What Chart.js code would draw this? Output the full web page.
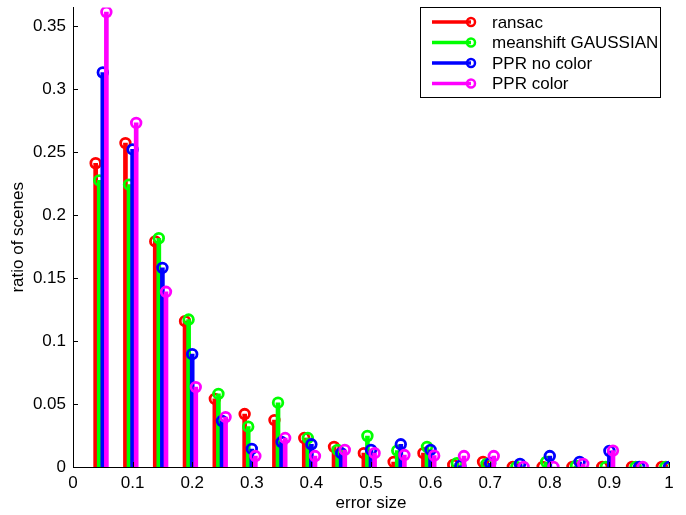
<!DOCTYPE html>
<html>
<head>
<meta charset="utf-8">
<script src="https://cdn.jsdelivr.net/npm/chart.js@4"></script>
<style>
  html, body { margin: 0; padding: 0; background: #fff; }
  #wrap { width: 686px; height: 515px; }
</style>
</head>
<body>
<div id="wrap"><canvas id="c" width="686" height="515"></canvas></div>
<script>
// ---- data ----
const bins = [0.05,0.10,0.15,0.20,0.25,0.30,0.35,0.40,0.45,0.50,0.55,0.60,0.65,0.70,0.75,0.80,0.85,0.90,0.95,1.00];
const seriesNames = ['ransac', 'meanshift GAUSSIAN', 'PPR no color', 'PPR color'];
const seriesShift = [-0.012, -0.006, 0, 0.006];
const ransac     = [0.241,0.257,0.179,0.1157,0.054,0.042,0.0372,0.023,0.016,0.011,0.004,0.011,0.0016,0.004,0,0,0,0,0,0];
const meanshift  = [0.2274,0.224,0.1815,0.117,0.058,0.032,0.051,0.023,0.0135,0.0246,0.013,0.016,0.003,0.0024,0,0.004,0.0008,0,0,0];
const pprNoColor = [0.313,0.252,0.158,0.0895,0.0365,0.0143,0.0198,0.018,0.011,0.0135,0.018,0.0135,0.001,0.003,0.0024,0.0087,0.004,0.0127,0,0];
const pprColor   = [0.361,0.273,0.139,0.0634,0.0396,0.0087,0.023,0.0087,0.0135,0.011,0.0095,0.009,0.0087,0.0087,0,0,0.0024,0.013,0,null];
const xTickValues = [0,0.1,0.2,0.3,0.4,0.5,0.6,0.7,0.8,0.9,1];
const yTickValues = [0,0.05,0.1,0.15,0.2,0.25,0.3,0.35];

const seriesValues = [ransac, meanshift, pprNoColor, pprColor];
const colors = ['#ff0000', '#00ff00', '#0000ff', '#ff00ff'];
const FONT = '"Liberation Sans", Arial, Helvetica, sans-serif';

const datasets = [];
seriesValues.forEach((vals, i) => {
  const pts = [];
  vals.forEach((v, k) => { if (v !== null) pts.push({ x: bins[k] + seriesShift[i], y: v }); });
  datasets.push({
    type: 'bar', label: seriesNames[i], data: pts,
    backgroundColor: colors[i], borderWidth: 0,
    barThickness: 4, grouped: false, order: 10 - 2 * i
  });
  datasets.push({
    type: 'line', label: seriesNames[i] + ' marker', data: pts, showLine: false,
    borderColor: colors[i], backgroundColor: 'rgba(0,0,0,0)',
    pointRadius: 4.8, pointBorderWidth: 2.8, pointBorderColor: colors[i],
    pointBackgroundColor: 'rgba(0,0,0,0)', order: 9 - 2 * i
  });
});

const fmt = v => String(Number(v.toFixed(2)));

const innerTicks = {
  id: 'innerTicks',
  afterDraw(chart) {
    const ctx = chart.ctx, xs = chart.scales.x, ys = chart.scales.y, a = chart.chartArea;
    ctx.save();
    ctx.strokeStyle = '#000'; ctx.lineWidth = 1;
    ctx.beginPath();
    xTickValues.forEach(v => { const px = Math.round(xs.getPixelForValue(v)) + 0.5; ctx.moveTo(px, a.bottom); ctx.lineTo(px, a.bottom - 5); });
    yTickValues.forEach(v => { const py = Math.round(ys.getPixelForValue(v)) + 0.5; ctx.moveTo(a.left, py); ctx.lineTo(a.left + 5, py); });
    ctx.stroke();
    ctx.restore();
  }
};

const stemLegend = {
  id: 'stemLegend',
  afterDraw(chart) {
    const ctx = chart.ctx;
    const box = { l: 420.5, t: 7.5, r: 660.5, b: 97.5 };
    ctx.save();
    ctx.fillStyle = '#fff';
    ctx.fillRect(box.l, box.t, box.r - box.l, box.b - box.t);
    ctx.strokeStyle = '#000'; ctx.lineWidth = 1;
    ctx.strokeRect(box.l, box.t, box.r - box.l, box.b - box.t);
    ctx.font = '17px ' + FONT;
    ctx.textBaseline = 'middle';
    ctx.textAlign = 'left';
    seriesNames.forEach((name, i) => {
      const y = 22 + i * 20.5;
      ctx.strokeStyle = colors[i];
      ctx.lineWidth = 3.5;
      ctx.beginPath(); ctx.moveTo(432, y); ctx.lineTo(471, y); ctx.stroke();
      ctx.lineWidth = 2.5;
      ctx.beginPath(); ctx.arc(471, y, 4, 0, Math.PI * 2); ctx.stroke();
      ctx.fillStyle = '#000';
      ctx.fillText(name, 492, y + 1);
    });
    ctx.restore();
  }
};

new Chart(document.getElementById('c'), {
  type: 'bar',
  data: { datasets },
  options: {
    responsive: false,
    animation: false,
    devicePixelRatio: 1,
    layout: { padding: { top: 7, right: 17, left: 0, bottom: 0 } },
    plugins: { legend: { display: false }, tooltip: { enabled: false } },
    scales: {
      x: {
        type: 'linear', min: 0, max: 1, offset: false,
        afterFit: s => { s.height = 48; s.paddingLeft = 0; s.paddingRight = 0; },
        afterBuildTicks: s => { s.ticks = xTickValues.map(v => ({ value: v })); },
        grid: { display: false, drawTicks: false },
        border: { display: true, color: '#000', width: 1 },
        ticks: { color: '#000', font: { family: FONT, size: 17 }, padding: 6, maxRotation: 0, autoSkip: false, callback: v => fmt(v) },
        title: { display: true, text: 'error size', color: '#000', font: { family: FONT, size: 17 }, padding: { top: 0, bottom: 1 } }
      },
      y: {
        type: 'linear', min: 0, max: 0.3645,
        afterFit: s => { s.width = 73; s.paddingTop = 0; s.paddingBottom = 0; },
        afterBuildTicks: s => { s.ticks = yTickValues.map(v => ({ value: v })); },
        grid: { display: false, drawTicks: false },
        border: { display: true, color: '#000', width: 1 },
        ticks: { color: '#000', font: { family: FONT, size: 17 }, padding: 7, autoSkip: false, callback: v => fmt(v) },
        title: { display: true, text: 'ratio of scenes', color: '#000', font: { family: FONT, size: 17 }, padding: { top: 8, bottom: 0 } }
      }
    }
  },
  plugins: [innerTicks, stemLegend]
});
</script>
</body>
</html>
